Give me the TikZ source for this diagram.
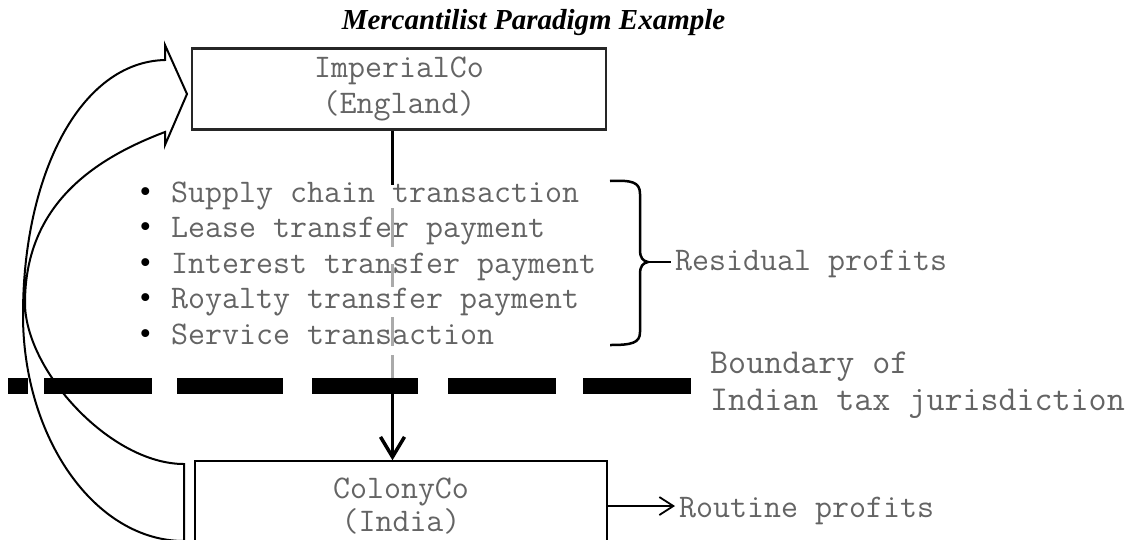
\documentclass[tikz,border=0pt]{standalone}
\usepackage{fontspec}
\setmainfont{Liberation Serif}
\usetikzlibrary{arrows.meta}
\definecolor{txtgray}{RGB}{100,100,100}
\definecolor{linegray}{RGB}{170,170,170}
\begin{document}
\begin{tikzpicture}[x=1pt,y=-1pt,
  mono/.style={font=\ttfamily\fontsize{33}{36.5}\selectfont, text=txtgray},
  monolarge/.style={font=\ttfamily\fontsize{35}{36}\selectfont, text=txtgray},
  boxA/.style={draw=black!85, line width=2.2pt, inner sep=0, align=center, mono},
  boxB/.style={draw=black, line width=1.5pt, inner sep=0, align=center, mono},
  conn/.style={line width=3.5pt, black},
  grayseg/.style={line width=2.5pt, linegray,
    dash pattern=on 0pt off 23pt on 39pt off 17pt on 23pt off 30pt on 29pt off 9pt on 23pt off 40pt},
  label/.style={mono, anchor=base west, inner sep=0, inner xsep=4pt},
]
\useasboundingbox (0,0) rectangle (1139,539);
\clip (0,0) rectangle (1139,539);

% title
\node[anchor=base, font=\rmfamily\bfseries\itshape\fontsize{29}{29}\selectfont] (title) at (533.5,29) {Mercantilist Paradigm Example};

% boxes
\node[boxA, minimum width=414pt, minimum height=81pt] (imp) at (399,89) {ImperialCo\\(England)};
\node[boxB, minimum width=412pt, minimum height=90pt, font=\ttfamily\fontsize{33}{33}\selectfont] (col) at (401,506) {ColonyCo\\(India)};

% boundary (dashed)
\coordinate (bL) at (8,386);
\coordinate (bR) at (691,386);
\draw[line width=16pt, dash pattern=on 20pt off 16pt on 108pt off 25pt on 106pt off 29pt on 106pt off 30pt on 108pt off 27pt on 108pt off 10pt] (bL) -- (bR);
\node[monolarge, anchor=base west, inner sep=0] (bd1) at (710,373) {Boundary of};
\node[monolarge, anchor=base west, inner sep=0] (bd2) at (710,410) {Indian tax jurisdiction};

% list of transactions
\foreach \t [count=\i] in {Supply chain transaction, Lease transfer payment, Interest transfer payment, Royalty transfer payment, Service transaction}{
  \pgfmathsetmacro\yy{202+(\i-1)*35.5}
  \node[mono, anchor=base west, inner sep=0] (item\i) at (171,\yy) {\llap{{\rmfamily\color{black}•}\hspace{20pt}}\t};
}

% vertical connector ImperialCo -> ColonyCo
\coordinate (cx) at (392.5,0);
\coordinate (g1) at (392.5,185);
\coordinate (g2) at (392.5,378);
\coordinate (g3) at (392.5,394);
\draw[conn] (imp.south -| cx) -- (g1);
\draw[grayseg] (g1) -- (g2);
\draw[conn, -{Straight Barb[length=20pt,width=24pt]}] (g3) -- (col.north -| cx);

% brace and residual profits
\coordinate (btip) at (648,262);
\draw[line width=2.5pt] (610,181) .. controls (632,180) and (640,182) .. (640,194) -- (640,250)
  .. controls (640,258) and (643,261) .. (btip)
  .. controls (643,263) and (640,266) .. (640,274) -- (640,332)
  .. controls (640,343) and (632,345) .. (610,345);
\node[label] (resid) at (671,270) {Residual profits};
\draw[line width=2pt] (btip) -- (btip -| resid.west);

% routine profits
\node[label] (rout) at (675,517) {Routine profits};
\draw[line width=1.8pt, -{Straight Barb[length=14pt,width=18pt]}] (col.east) -- (col.east -| rout.west);

% curved block arrow from ColonyCo back to ImperialCo
\draw[line width=2pt, line join=miter]
  (184,464) .. controls (110,464) and (25,370) .. (25,303)
  .. controls (25,209) and (88,161) .. (165,132)
  -- (165,145) -- (187,94) -- (165,45) -- (165,60)
  .. controls (80,62) and (23,175) .. (23,315)
  .. controls (23,438) and (95,541) .. (184,541)
  -- cycle;
\end{tikzpicture}
\end{document}
